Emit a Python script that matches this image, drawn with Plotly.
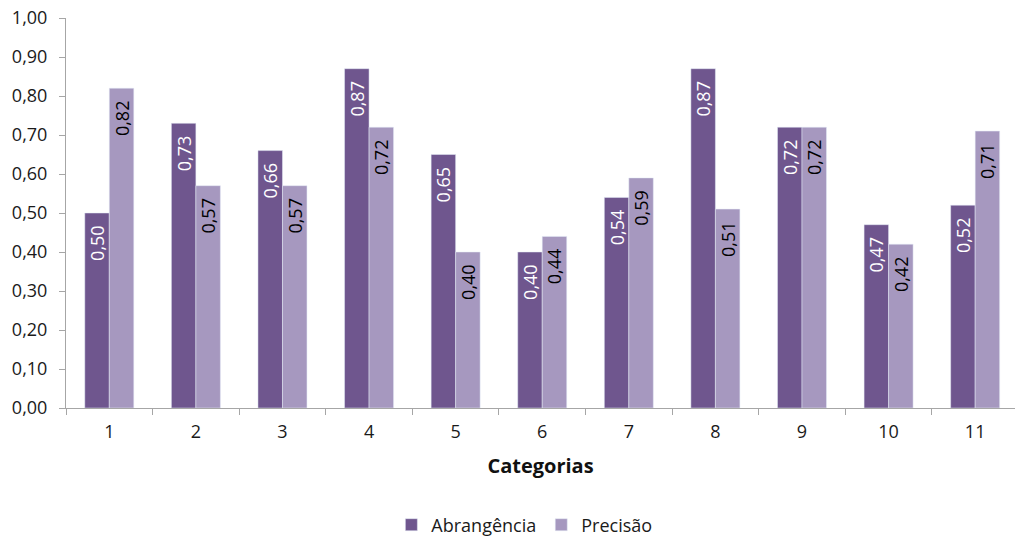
import plotly.graph_objects as go

categorias = ["1", "2", "3", "4", "5", "6", "7", "8", "9", "10", "11"]
abrangencia = [0.50, 0.73, 0.66, 0.87, 0.65, 0.40, 0.54, 0.87, 0.72, 0.47, 0.52]
precisao = [0.82, 0.57, 0.57, 0.72, 0.40, 0.44, 0.59, 0.51, 0.72, 0.42, 0.71]

COR_ABR = "#6f568e"
COR_PRE = "#a698bf"
FONTE = "Open Sans"


def rotulos(valores):
    # decimal comma, with a little padding below the bar top
    return [f"{v:.2f}".replace(".", ",") + "\u00a0\u00a0" for v in valores]


fig = go.Figure()
fig.add_bar(
    name="Abrangência", x=categorias, y=abrangencia, marker_color=COR_ABR,
    text=rotulos(abrangencia), textposition="inside", insidetextanchor="end",
    textangle=-90, constraintext="none",
    textfont=dict(family=FONTE, size=18, color="white"),
)
fig.add_bar(
    name="Precisão", x=categorias, y=precisao, marker_color=COR_PRE,
    text=rotulos(precisao), textposition="inside", insidetextanchor="end",
    textangle=-90, constraintext="none",
    textfont=dict(family=FONTE, size=18, color="black"),
)

fig.update_layout(
    width=1015, height=538,
    margin=dict(l=66, r=0, t=18, b=130, autoexpand=False),
    paper_bgcolor="white", plot_bgcolor="white",
    separators=",.",
    barmode="group", bargap=0.434, bargroupgap=0,
    font=dict(family=FONTE, size=18, color="#1a1a1a"),
    hovermode=False,
    legend=dict(
        orientation="h", x=0.483, xanchor="center", y=-0.3, yanchor="middle",
        font=dict(family=FONTE, size=18, color="#1a1a1a"),
        traceorder="normal", itemwidth=30,
    ),
)
fig.update_xaxes(
    range=[-0.5, 10.46],
    showline=True, linecolor="#a6a6a6", linewidth=1,
    ticks="outside", tickson="boundaries", ticklen=6, tickcolor="#a6a6a6",
    showgrid=False, ticklabelstandoff=7,
    title=dict(text="<b>Categorias</b>", font=dict(family=FONTE, size=20, color="#111111"), standoff=17),
)
fig.update_yaxes(
    range=[0, 1], dtick=0.1, tickformat=".2f",
    showline=True, linecolor="#a6a6a6", linewidth=1,
    ticks="outside", ticklen=6, tickcolor="#a6a6a6",
    showgrid=False, zeroline=False,
    ticklabelstandoff=8,
)

fig.write_html("out.html")
